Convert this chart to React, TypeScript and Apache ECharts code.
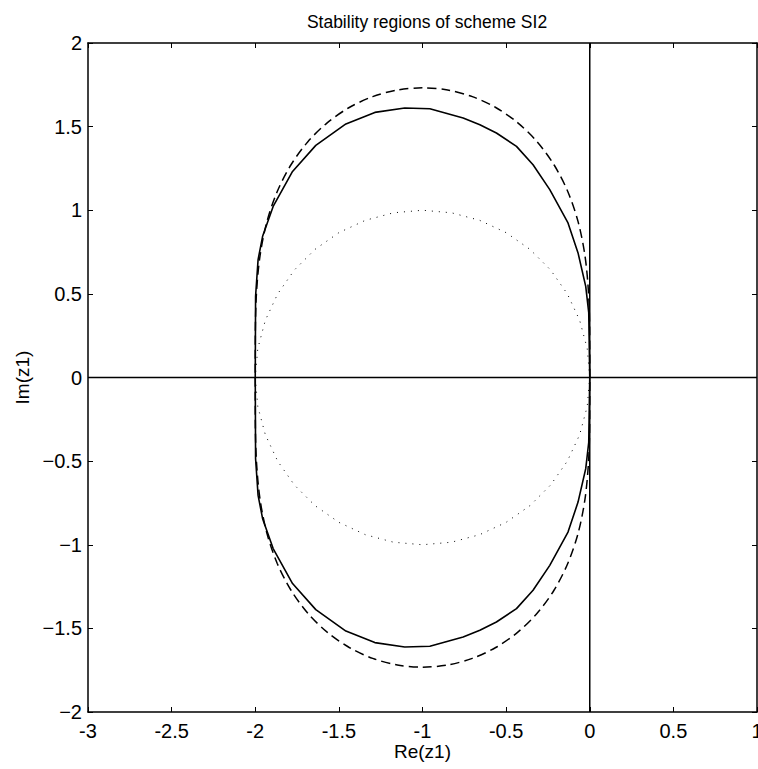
import React, { useEffect, useRef } from "react";
import * as echarts from "echarts";

// Tick values
const xTicks = [-3, -2.5, -2, -1.5, -1, -0.5, 0, 0.5, 1];
const yTicks = [-2, -1.5, -1, -0.5, 0, 0.5, 1, 1.5, 2];

// Solid curve: stability region boundary of scheme SI2
const solidCurve: number[][] = [
  [0, 0], [-0.006, 0.387], [-0.024, 0.545], [-0.07, 0.745], [-0.13, 0.924],
  [-0.239, 1.123], [-0.339, 1.272], [-0.438, 1.382], [-0.558, 1.462],
  [-0.657, 1.511], [-0.757, 1.551], [-0.956, 1.607], [-1.106, 1.611],
  [-1.285, 1.585], [-1.458, 1.516], [-1.638, 1.388], [-1.777, 1.232],
  [-1.893, 1.023], [-1.956, 0.844], [-1.983, 0.705], [-1.998, 0.486], [-2.0, 0],
  [-1.998, -0.486], [-1.983, -0.705], [-1.956, -0.844], [-1.893, -1.023],
  [-1.777, -1.232], [-1.638, -1.388], [-1.458, -1.516], [-1.285, -1.585],
  [-1.106, -1.611], [-0.956, -1.607], [-0.757, -1.551], [-0.657, -1.511],
  [-0.558, -1.462], [-0.438, -1.382], [-0.339, -1.272], [-0.239, -1.123],
  [-0.13, -0.924], [-0.07, -0.745], [-0.024, -0.545], [-0.006, -0.387], [0, 0],
];

// Dashed curve
const dashedCurve: number[][] = [
  [0, 0], [-0.0004, 0.2589], [-0.0072, 0.5036], [-0.0285, 0.7277], [-0.0694, 0.9306],
  [-0.1315, 1.1121], [-0.2138, 1.272], [-0.3147, 1.4097], [-0.4317, 1.5241],
  [-0.5621, 1.6143], [-0.7023, 1.6795], [-0.8496, 1.7189], [-1, 1.7321],
  [-1.1504, 1.7189], [-1.2977, 1.6795], [-1.4379, 1.6143], [-1.5683, 1.5241],
  [-1.6853, 1.4097], [-1.7862, 1.272], [-1.8685, 1.1121], [-1.9306, 0.9306],
  [-1.9715, 0.7277], [-1.9928, 0.5036], [-1.9996, 0.2589], [-2, 0],
  [-1.9996, -0.2589], [-1.9928, -0.5036], [-1.9715, -0.7277], [-1.9306, -0.9306],
  [-1.8685, -1.1121], [-1.7862, -1.272], [-1.6853, -1.4097], [-1.5683, -1.5241],
  [-1.4379, -1.6143], [-1.2977, -1.6795], [-1.1504, -1.7189], [-1, -1.7321],
  [-0.8496, -1.7189], [-0.7023, -1.6795], [-0.5621, -1.6143], [-0.4317, -1.5241],
  [-0.3147, -1.4097], [-0.2138, -1.272], [-0.1315, -1.1121], [-0.0694, -0.9306],
  [-0.0285, -0.7277], [-0.0072, -0.5036], [-0.0004, -0.2589], [0, 0],
];

// Dotted circle
const dottedCircle: number[][] = [
  [0, 0], [-0.0152, 0.1736], [-0.0603, 0.342], [-0.134, 0.5], [-0.234, 0.6428],
  [-0.3572, 0.766], [-0.5, 0.866], [-0.658, 0.9397], [-0.8264, 0.9848], [-1, 1],
  [-1.1736, 0.9848], [-1.342, 0.9397], [-1.5, 0.866], [-1.6428, 0.766],
  [-1.766, 0.6428], [-1.866, 0.5], [-1.9397, 0.342], [-1.9848, 0.1736], [-2, 0],
  [-1.9848, -0.1736], [-1.9397, -0.342], [-1.866, -0.5], [-1.766, -0.6428],
  [-1.6428, -0.766], [-1.5, -0.866], [-1.342, -0.9397], [-1.1736, -0.9848], [-1, -1],
  [-0.8264, -0.9848], [-0.658, -0.9397], [-0.5, -0.866], [-0.3572, -0.766],
  [-0.234, -0.6428], [-0.134, -0.5], [-0.0603, -0.342], [-0.0152, -0.1736], [0, 0],
];

// Coordinate axes drawn inside the plot
const realAxisLine: number[][] = [[-3, 0], [1, 0]];
const imagAxisLine: number[][] = [[0, -2], [0, 2]];

const FONT = "'Liberation Sans', Arial, Helvetica, sans-serif";

export default function App() {
  const ref = useRef<HTMLDivElement>(null);
  useEffect(() => {
    if (!ref.current) return;
    document.body.style.margin = "0";
    const chart = echarts.init(ref.current, undefined, { renderer: "svg" });
    const axisLineStyle = { lineStyle: { color: "#000", width: 1.5 } };
    const tick = { show: true, inside: true, length: 5, lineStyle: { color: "#000", width: 1 } };
    const xBase = {
      type: "value" as const,
      min: xTicks[0],
      max: xTicks[xTicks.length - 1],
      interval: 0.5,
      splitLine: { show: false },
      axisLine: { show: true, onZero: false, ...axisLineStyle },
      axisTick: tick,
    };
    const yBase = {
      type: "value" as const,
      min: yTicks[0],
      max: yTicks[yTicks.length - 1],
      interval: 0.5,
      splitLine: { show: false },
      axisLine: { show: true, onZero: false, ...axisLineStyle },
      axisTick: tick,
    };
    chart.setOption({
      animation: false,
      backgroundColor: "#fff",
      title: {
        text: "Stability regions of scheme SI2",
        left: 422,
        top: 8,
        textAlign: "center",
        textStyle: { fontFamily: FONT, fontSize: 17.5, fontWeight: "normal", color: "#000" },
      },
      grid: {
        left: 88,
        top: 43,
        width: 669,
        height: 669,
        containLabel: false,
        outerBoundsMode: "none",
      },
      xAxis: [
        {
          ...xBase,
          position: "bottom",
          name: "Re(z1)",
          nameLocation: "middle",
          nameGap: 30,
          nameMoveOverlap: false,
          nameTextStyle: { fontFamily: FONT, fontSize: 19, color: "#000" },
          axisLabel: {
            show: true,
            margin: 9,
            fontFamily: FONT,
            fontSize: 20,
            color: "#000",
            showMinLabel: true,
            showMaxLabel: true,
            hideOverlap: false,
            formatter: (v: number) => String(v),
          },
        },
        { ...xBase, position: "top", axisLabel: { show: false } },
      ],
      yAxis: [
        {
          ...yBase,
          position: "left",
          name: "Im(z1)",
          nameLocation: "middle",
          nameGap: 55,
          nameTextStyle: { fontFamily: FONT, fontSize: 19, color: "#000" },
          axisLabel: {
            show: true,
            margin: 6,
            fontFamily: FONT,
            fontSize: 20,
            color: "#000",
            showMinLabel: true,
            showMaxLabel: true,
            hideOverlap: false,
            formatter: (v: number) => String(v).replace("-", "\u2212"),
          },
        },
        { ...yBase, position: "right", axisLabel: { show: false } },
      ],
      series: [
        {
          type: "line",
          data: realAxisLine,
          showSymbol: false,
          silent: true,
          lineStyle: { color: "#000", width: 1.5 },
        },
        {
          type: "line",
          data: imagAxisLine,
          showSymbol: false,
          silent: true,
          lineStyle: { color: "#000", width: 1.5 },
        },
        {
          type: "line",
          data: dottedCircle,
          showSymbol: false,
          smooth: false,
          lineStyle: { color: "#000", width: 1, type: [1, 6] },
        },
        {
          type: "line",
          data: dashedCurve,
          showSymbol: false,
          smooth: 0.3,
          lineStyle: { color: "#000", width: 1.5, type: [9, 5] },
        },
        {
          type: "line",
          data: solidCurve,
          showSymbol: false,
          lineStyle: { color: "#000", width: 1.6 },
        },
      ],
    });
    return () => chart.dispose();
  }, []);
  return (
    <div
      ref={ref}
      style={{ position: "fixed", left: 0, top: 0, width: 758, height: 769, background: "#fff" }}
    />
  );
}
